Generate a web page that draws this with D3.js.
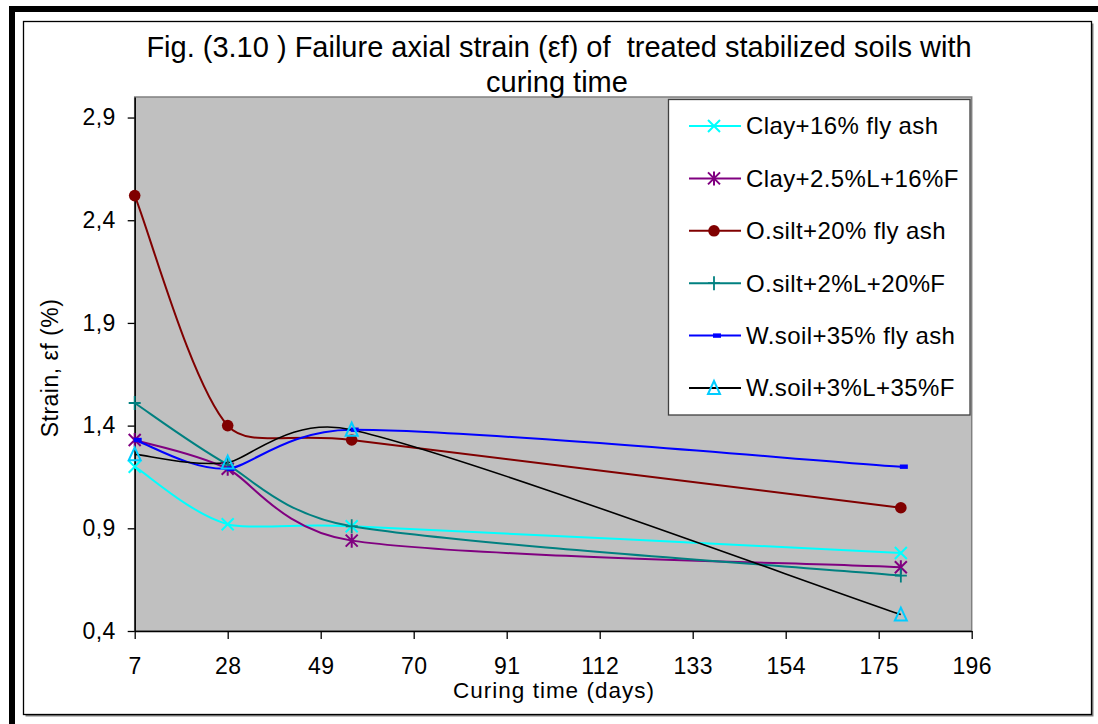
<!DOCTYPE html>
<html>
<head>
<meta charset="utf-8">
<script src="https://cdn.jsdelivr.net/npm/d3@7"></script>
<style>
  html, body { margin: 0; padding: 0; background: #fff; }
  svg { display: block; font-family: "Liberation Sans", Arial, sans-serif; }
  text { white-space: pre; }
</style>
</head>
<body>
<svg id="chart" width="1098" height="724"></svg>
<script>
// Curing time (days) at which each mix was tested
const days = [7, 28, 56, 180];

// Failure axial strain (%) per mix
const clayFlyAsh   = [1.20, 0.92, 0.91, 0.78];
const clayLimeFly  = [1.33, 1.19, 0.84, 0.71];
const siltFlyAsh   = [2.52, 1.40, 1.33, 1.00];
const siltLimeFly  = [1.51, 1.21, 0.91, 0.67];
const wsoilFlyAsh  = [1.33, 1.19, 1.38, 1.20];
const wsoilLimeFly = [1.26, 1.22, 1.38, 0.48];

const seriesNames = [
  "Clay+16% fly ash",
  "Clay+2.5%L+16%F",
  "O.silt+20% fly ash",
  "O.silt+2%L+20%F",
  "W.soil+35% fly ash",
  "W.soil+3%L+35%F"
];

const xTicks = [7, 28, 49, 70, 91, 112, 133, 154, 175, 196];
const yTicks = [0.4, 0.9, 1.4, 1.9, 2.4, 2.9];

const titleLines = [
  "Fig. (3.10 ) Failure axial strain (\u03b5f) of  treated stabilized soils with",
  "curing time"
];
const xTitle = "Curing time (days)";
const yTitle = "Strain, \u03b5f (%)";

// Series styling: line colour, marker kind, marker colour
const styles = [
  { line: "#00FFFF", marker: "x",        mcolor: "#00FFFF" },
  { line: "#800080", marker: "asterisk", mcolor: "#800080" },
  { line: "#800000", marker: "circle",   mcolor: "#800000" },
  { line: "#008080", marker: "plus",     mcolor: "#008080" },
  { line: "#0000FF", marker: "dash",     mcolor: "#0000FF" },
  { line: "#000000", marker: "triangle", mcolor: "#00CCFF" }
];

const seriesValues = [clayFlyAsh, clayLimeFly, siltFlyAsh, siltLimeFly, wsoilFlyAsh, wsoilLimeFly];
const series = seriesNames.map((name, i) => ({
  name,
  style: styles[i],
  points: days.map((d, j) => ({ x: d, y: seriesValues[i][j] }))
}));

const svg = d3.select("#chart");
const font = "\"Liberation Sans\", Arial, sans-serif";

// Outer heavy frame and inner framed chart area
svg.append("rect").attr("x", 12).attr("y", 9).attr("width", 1200).attr("height", 900)
  .attr("fill", "none").attr("stroke", "#000").attr("stroke-width", 6);
svg.append("rect").attr("x", 25.5).attr("y", 23.5).attr("width", 1068).attr("height", 693)
  .attr("fill", "#808080");
svg.append("rect").attr("x", 23.5).attr("y", 21.5).attr("width", 1068).attr("height", 693)
  .attr("fill", "#fff").attr("stroke", "#000").attr("stroke-width", 1.3);

// Plot geometry
const plot = { left: 134.7, right: 971.7, top: 97, bottom: 631 };
const x = d3.scaleLinear().domain([7, 196]).range([plot.left, plot.right]);
const y = d3.scaleLinear().domain([0.4, 3.0]).range([plot.bottom, plot.top]);

svg.append("rect")
  .attr("x", plot.left).attr("y", plot.top)
  .attr("width", plot.right - plot.left).attr("height", plot.bottom - plot.top)
  .attr("fill", "#C0C0C0").attr("stroke", "#808080").attr("stroke-width", 1.5);

// Axes
const commaFmt = d3.formatLocale({ decimal: ",", thousands: ".", grouping: [3], currency: ["", ""] }).format(".1f");

const yAxis = svg.append("g")
  .attr("transform", `translate(${plot.left},0)`)
  .call(d3.axisLeft(y).tickValues(yTicks).tickFormat(commaFmt).tickSize(7).tickPadding(12).tickSizeOuter(0));
const xAxis = svg.append("g")
  .attr("transform", `translate(0,${plot.bottom})`)
  .call(d3.axisBottom(x).tickValues(xTicks).tickFormat(d3.format("d")).tickSize(8).tickPadding(19).tickSizeOuter(0));

[yAxis, xAxis].forEach(g => {
  g.select(".domain").attr("stroke", "#000").attr("stroke-width", 1.5);
  g.selectAll(".tick line").attr("stroke", "#000").attr("stroke-width", 1.3);
  g.selectAll(".tick text").attr("fill", "#000").style("font-family", font)
    .style("font-size", "23px").style("letter-spacing", "0.4px");
});

// Spreadsheet-style smoothed line: cubic Bezier through the points, with
// control arms of 1/6 of the neighbour chord, scaled down when an arm would
// exceed half the segment length.
function smoothPath(pts) {
  const p = d3.path();
  const n = pts.length;
  const dist = (a, b) => Math.hypot(b[0] - a[0], b[1] - a[1]);
  p.moveTo(pts[0][0], pts[0][1]);
  for (let i = 0; i < n - 1; i++) {
    const p0 = pts[Math.max(i - 1, 0)];
    const p1 = pts[i];
    const p2 = pts[i + 1];
    const p3 = pts[Math.min(i + 2, n - 1)];
    const d12 = dist(p1, p2);
    const d02 = dist(p0, p2);
    const d13 = dist(p1, p3);
    const over0 = d02 / 6 >= d12 / 2;
    const over1 = d13 / 6 >= d12 / 2;
    let f0 = 1 / 6, f1 = 1 / 6;
    if (over0 && over1) {
      f0 = d12 / (2 * d02);
      f1 = d12 / (2 * d13);
    } else if (over0) {
      f0 = f1 = d12 / (2 * d02);
    } else if (over1) {
      f0 = f1 = d12 / (2 * d13);
    }
    const c1 = [p1[0] + f0 * (p2[0] - p0[0]), p1[1] + f0 * (p2[1] - p0[1])];
    const c2 = [p2[0] - f1 * (p3[0] - p1[0]), p2[1] - f1 * (p3[1] - p1[1])];
    p.bezierCurveTo(c1[0], c1[1], c2[0], c2[1], p2[0], p2[1]);
  }
  return p.toString();
}

function drawMarker(g, kind, color) {
  const s = 6;
  if (kind === "x") {
    g.append("path").attr("d", `M${-s},${-s}L${s},${s}M${-s},${s}L${s},${-s}`)
      .attr("stroke", color).attr("stroke-width", 2).attr("fill", "none");
  } else if (kind === "asterisk") {
    g.append("path").attr("d", `M${-s},${-s}L${s},${s}M${-s},${s}L${s},${-s}M0,${-s - 1}L0,${s + 1}`)
      .attr("stroke", color).attr("stroke-width", 2).attr("fill", "none");
  } else if (kind === "circle") {
    g.append("circle").attr("r", 5.8).attr("fill", color);
  } else if (kind === "plus") {
    g.append("path").attr("d", `M${-s},0L${s},0M0,${-s - 1}L0,${s + 1}`)
      .attr("stroke", color).attr("stroke-width", 1.8).attr("fill", "none");
  } else if (kind === "dash") {
    g.append("rect").attr("x", -1).attr("y", -2.2).attr("width", 8).attr("height", 4.4).attr("fill", color);
  } else if (kind === "triangle") {
    g.append("path").attr("d", `M0,${-s - 1}L${s},${s}L${-s},${s}Z`)
      .attr("stroke", color).attr("stroke-width", 2).attr("fill", "none");
  }
}

const seriesG = svg.append("g");
series.forEach(sr => {
  const pix = sr.points.map(d => [x(d.x), y(d.y)]);
  seriesG.append("path")
    .attr("d", smoothPath(pix))
    .attr("fill", "none")
    .attr("stroke", sr.style.line)
    .attr("stroke-width", sr.style.line === "#000000" ? 1.6 : 2);
});
series.forEach(sr => {
  sr.points.forEach(p => {
    const g = seriesG.append("g").attr("transform", `translate(${x(p.x)},${y(p.y)})`);
    drawMarker(g, sr.style.marker, sr.style.mcolor);
  });
});

// Legend
const legend = svg.append("g");
legend.append("rect").attr("x", 668.5).attr("y", 99.5).attr("width", 301.5).attr("height", 315.5)
  .attr("fill", "#fff").attr("stroke", "#404040").attr("stroke-width", 1.3);
series.forEach((sr, i) => {
  const cy = 126 + i * 52.4;
  const row = legend.append("g").attr("transform", `translate(0,${cy})`);
  row.append("line").attr("x1", 689).attr("x2", 741).attr("y1", 0).attr("y2", 0)
    .attr("stroke", sr.style.line).attr("stroke-width", 2);
  const m = row.append("g").attr("transform", "translate(714,0)");
  drawMarker(m, sr.style.marker, sr.style.mcolor);
  row.append("text").attr("x", 746).attr("y", 8.3)
    .style("font-family", font).style("font-size", "24px").style("letter-spacing", "0.4px")
    .attr("fill", "#000")
    .text(sr.name);
});

// Titles
svg.append("text").attr("x", 559).attr("y", 56.7).attr("text-anchor", "middle")
  .style("font-family", font).style("font-size", "29px").attr("fill", "#000")
  .text(titleLines[0]);
svg.append("text").attr("x", 557).attr("y", 91.5).attr("text-anchor", "middle")
  .style("font-family", font).style("font-size", "29px").attr("fill", "#000")
  .text(titleLines[1]);

svg.append("text").attr("x", 554).attr("y", 698).attr("text-anchor", "middle")
  .style("font-family", font).style("font-size", "22.5px").style("letter-spacing", "1px")
  .attr("fill", "#000")
  .text(xTitle);
svg.append("text").attr("transform", "translate(58,368) rotate(-90)").attr("text-anchor", "middle")
  .style("font-family", font).style("font-size", "23px").style("letter-spacing", "0.5px")
  .attr("fill", "#000")
  .text(yTitle);
</script>
</body>
</html>
